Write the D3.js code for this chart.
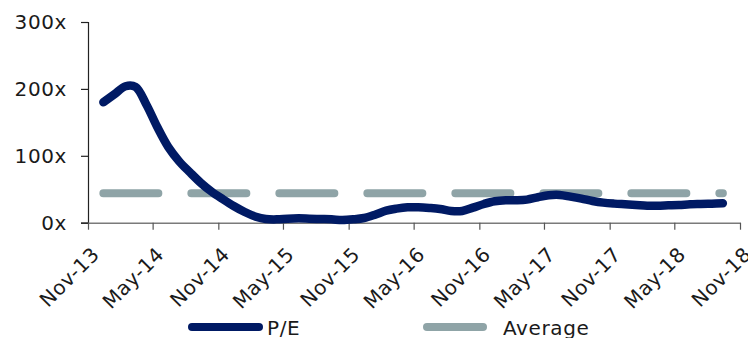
<!DOCTYPE html>
<html>
<head>
<meta charset="utf-8">
<script src="https://cdn.jsdelivr.net/npm/d3@7"></script>
<style>
  html, body { margin: 0; padding: 0; background: #fff; }
  svg { display: block; font-family: "DejaVu Sans", Verdana, sans-serif; }
</style>
</head>
<body>
<svg id="chart" width="748" height="338"></svg>
<script>
// ---- data ----
const peMonths = ["2013-12","2014-01","2014-02","2014-03","2014-04","2014-05","2014-06","2014-07",
  "2014-08","2014-09","2014-10","2014-11","2014-12","2015-01","2015-02","2015-03","2015-04","2015-05",
  "2015-06","2015-07","2015-08","2015-09","2015-10","2015-11","2015-12","2016-01","2016-02","2016-03",
  "2016-04","2016-05","2016-06","2016-07","2016-08","2016-09","2016-10","2016-11","2016-12","2017-01",
  "2017-02","2017-03","2017-04","2017-05","2017-06","2017-07","2017-08","2017-09","2017-10","2017-11",
  "2017-12","2018-01","2018-02","2018-03","2018-04","2018-05","2018-06","2018-07","2018-08","2018-09"];
const peValues = [180, 192, 204, 203, 176, 143, 113, 92, 75, 59, 46, 35, 25, 16, 9, 5.5, 5, 6,
  6.5, 6, 5.5, 5, 4, 5, 7, 12, 18, 21, 23, 23, 22, 20.5, 17.5, 17.5, 22.5, 28, 32, 33.5,
  33.5, 34.5, 38, 41, 41.5, 39, 36, 32.5, 30, 28.5, 27.5, 26.5, 25.5, 25.5, 26, 26.5, 27.5, 28, 28.5, 29];
const averageValue = 44;
const yTicks = [0, 100, 200, 300];
const xTickDates = ["2013-11-01","2014-05-01","2014-11-01","2015-05-01","2015-11-01","2016-05-01",
  "2016-11-01","2017-05-01","2017-11-01","2018-05-01","2018-11-01"];
const seriesNames = ["P/E", "Average"];
const colors = ["#001a64", "#8fa4a7"];

// ---- chart ----
const parse = d3.timeParse("%Y-%m-%d");
const parseMonth = s => parse(s + "-14");
const fmt = d3.timeFormat("%b-%y");
const svg = d3.select("#chart");

const x = d3.scaleTime()
  .domain([parse("2013-11-01"), parse("2018-11-01")])
  .range([88, 740]);
const y = d3.scaleLinear().domain([0, 300]).range([222.7, 22]);

// y axis
const yAxis = svg.append("g")
  .attr("transform", "translate(88,0)")
  .call(d3.axisLeft(y).tickValues(yTicks).tickSize(7).tickPadding(14)
    .tickFormat(d => d + "x"));
yAxis.select(".domain").attr("stroke", "#222").attr("stroke-width", 1.2);
yAxis.selectAll(".tick line").attr("stroke", "#222").attr("stroke-width", 1.2);
yAxis.selectAll("text").attr("font-size", 20).attr("fill", "#1a1a1a")
  .attr("letter-spacing", 0.6)
  .attr("font-family", "DejaVu Sans, Verdana, sans-serif");

// x axis
const xAxis = svg.append("g")
  .attr("transform", "translate(0,222.7)")
  .call(d3.axisBottom(x).tickValues(xTickDates.map(parse)).tickSize(7).tickSizeOuter(0)
    .tickFormat(fmt));
xAxis.select(".domain").attr("stroke", "#7a7a7a").attr("stroke-width", 1.5);
xAxis.selectAll(".tick line").attr("stroke", "#555").attr("stroke-width", 1.2);
xAxis.selectAll("text")
  .attr("font-size", 20).attr("fill", "#1a1a1a")
  .attr("letter-spacing", 0.5)
  .attr("font-family", "DejaVu Sans, Verdana, sans-serif")
  .attr("text-anchor", "end")
  .attr("x", 0).attr("y", 0).attr("dy", null)
  .attr("transform", "translate(12,33) rotate(-45)");

// average dashed line
const pts = peMonths.map((d, i) => ({ date: parseMonth(d), v: peValues[i] }));
const first = pts[0].date, last = pts[pts.length - 1].date;
svg.append("line")
  .attr("x1", x(first)).attr("x2", x(last))
  .attr("y1", y(averageValue)).attr("y2", y(averageValue))
  .attr("stroke", colors[1]).attr("stroke-width", 8)
  .attr("stroke-linecap", "round")
  .attr("stroke-dasharray", "55,33");

// P/E line
const line = d3.line().x(d => x(d.date)).y(d => y(d.v)).curve(d3.curveCatmullRom.alpha(0.5));
svg.append("path")
  .datum(pts)
  .attr("d", line)
  .attr("fill", "none")
  .attr("stroke", colors[0])
  .attr("stroke-width", 8.5)
  .attr("stroke-linecap", "round")
  .attr("stroke-linejoin", "round");

// legend
const legend = [
  { x1: 192, x2: 259, tx: 267 },
  { x1: 427, x2: 483, tx: 503 }
];
legend.forEach((l, i) => {
  svg.append("line")
    .attr("x1", l.x1).attr("x2", l.x2).attr("y1", 327).attr("y2", 327)
    .attr("stroke", colors[i]).attr("stroke-width", 8).attr("stroke-linecap", "round");
  svg.append("text")
    .attr("x", l.tx).attr("y", 334.5)
    .attr("font-size", 20).attr("fill", "#1a1a1a")
    .attr("letter-spacing", 0.6)
    .text(seriesNames[i]);
});
</script>
</body>
</html>
